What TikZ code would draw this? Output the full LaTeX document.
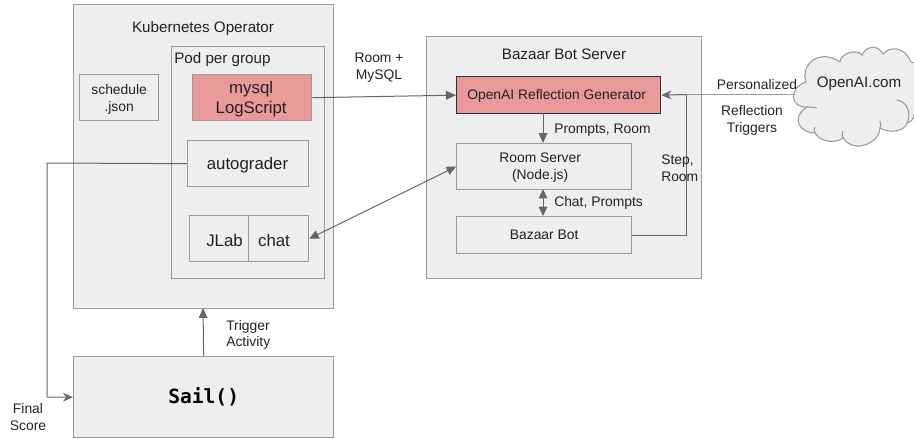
\documentclass[tikz,border=0pt]{standalone}
\usepackage{fontspec}
\setmainfont{Liberation Sans}
\setmonofont{DejaVu Sans Mono}
\usetikzlibrary{arrows.meta}
\definecolor{boxfill}{HTML}{EEEEEE}
\definecolor{boxline}{HTML}{9A9A9A}
\definecolor{redfill}{HTML}{EA9999}
\definecolor{arrowc}{HTML}{666666}
\definecolor{txt}{HTML}{222222}
\newcommand{\dn}[1]{\raisebox{-1pt}[\height][\depth]{#1}}
\newcommand{\dnn}[1]{\raisebox{-1.4pt}[\height][\depth]{\begin{tabular}{@{}c@{}}#1\end{tabular}}}
\tikzset{
  x=0.75pt,y=-0.75pt,
  box/.style={draw=boxline,fill=boxfill,line width=1pt,inner sep=0pt,text=txt,align=center,anchor=north west},
  small/.style={font=\fontsize{10.4pt}{12.6pt}\selectfont},
  mid/.style={font=\fontsize{11.4pt}{14pt}\selectfont},
  big/.style={font=\fontsize{12.6pt}{15pt}\selectfont},
  lab/.style={text=txt,align=center,inner sep=0pt,small},
  conn/.style={draw=arrowc,line width=0.75pt,-{Triangle[length=7.5pt,width=6.5pt]}},
  sconn/.style={draw=arrowc,line width=0.75pt,-{Stealth[length=7.5pt,width=6.5pt]}},
  plain/.style={draw=arrowc,line width=0.75pt},
  both/.style={draw=arrowc,line width=0.75pt,{Triangle[length=7pt,width=6.5pt]}-{Triangle[length=7pt,width=6.5pt]}},
  cloudline/.style={draw=boxline,line width=0.8pt}
}
\begin{document}
\begin{tikzpicture}
\useasboundingbox (0,0) rectangle (914,439);
\node[box,minimum width=195pt,minimum height=228pt] (k8s) at (73,4) {};
\node[box,minimum width=114.75pt,minimum height=174pt] (pod) at (171,46) {};
\node[box,small,minimum width=59.25pt,minimum height=34.5pt] (sched) at (79,74) {\dnn{schedule\\.json}};
\node[box,big,fill=redfill,minimum width=89.25pt,minimum height=34.5pt] (logs) at (192,74) {\dnn{\hspace*{-1.5pt}mysql\\\hspace*{-1.5pt}LogScript}};
\node[box,big,minimum width=90.75pt,minimum height=34.5pt] (auto) at (187,140) {\dn{\hspace*{-1pt}autograder}};
\node[box,big,minimum width=44.25pt,minimum height=34.5pt] (jlab) at (189,215) {\dn{\hspace*{8pt}JLab}};
\node[box,big,minimum width=45pt,minimum height=34.5pt] (chat) at (248,215) {\dn{\hspace*{-7pt}chat}};
\node[box,text=black,minimum width=195pt,minimum height=60.75pt,font=\fontsize{14.7pt}{16pt}\selectfont\ttfamily\bfseries] (sail) at (73,356) {Sail()};
\node[box,minimum width=206.25pt,minimum height=181.5pt] (bazaar) at (426,36) {};
\node[box,small,fill=redfill,draw=black!80,minimum width=153pt,minimum height=27.75pt] (gen) at (456,76) {\raisebox{-0.3pt}[\height][\depth]{\hspace*{-3pt}OpenAI Reflection Generator}};
\node[box,small,minimum width=131.25pt,minimum height=34.5pt] (room) at (456,143) {\raisebox{-0.7pt}[\height][\depth]{\begin{tabular}{@{}c@{}}Room Server\\(Node.js)\end{tabular}\hspace*{6pt}}};
\node[box,small,minimum width=131.25pt,minimum height=27.75pt] (bot) at (456,216) {Bazaar Bot};
\node[lab,mid] (t1) at (203,29) {Kubernetes Operator};
\node[lab,mid,anchor=west] (t2) at (174,60) {Pod per group};
\node[lab,mid] (t3) at (564,54) {Bazaar Bot Server};
% cloud
\path[cloudline,fill=boxfill]
 (806,82) .. controls (800,64) and (820,48) .. (840,62)
 .. controls (840,54) and (856,48) .. (862,55)
 .. controls (866,46) and (878,44) .. (883,54)
 .. controls (890,46) and (904,46) .. (911,62)
 .. controls (925,62) and (930,100) .. (914,115)
 .. controls (914,120) and (910,122) .. (907,123)
 .. controls (905,131) and (890,134) .. (880,128)
 .. controls (880,142) and (855,155) .. (843,138)
 .. controls (835,144) and (820,142) .. (815,133)
 .. controls (800,133) and (790,118) .. (807,107)
 .. controls (790,108) and (788,88) .. (806,82) -- cycle;
\draw[cloudline] (897,100) .. controls (909,102) and (911,116) .. (907,123);
\draw[cloudline] (807,107) .. controls (810,107) and (813,107) .. (817,108);
\draw[cloudline] (815,133) .. controls (814,131) and (814,129) .. (815,127);
\draw[cloudline] (843,138) .. controls (842,136) and (842,134) .. (843,131);
\draw[cloudline] (880,128) .. controls (881,126) and (881,124) .. (880,121);
\node[lab,mid] (cloudtxt) at (859,84) {OpenAI.com};
\coordinate (cloudw) at (795,94.5);
\coordinate (c1) at (47,163);
\coordinate (c4) at (686,94.5);
\coordinate (gs) at (543,113);
\coordinate (rn) at (543,143);
\coordinate (rs) at (543,189);
\coordinate (bn) at (543,216);
\coordinate (ta) at (203,308);
% connectors
\draw[conn] (logs.east) -- (gen.west);
\draw[sconn] (auto.west) -- (c1) |- (sail.west);
\draw[conn] (sail.north) -- (ta);
\draw[both] (chat.east) -- (room.west);
\draw[conn] (gs) -- (rn);
\draw[both] (rs) -- (bn);
\draw[plain] (bot.east) -| (c4);
\draw[cloudline,line width=1pt] (cloudw) -- (c4);
\draw[sconn] (c4) -- (gen.east);
% labels
\node[lab] (l1) at (379,68) {Room +\\MySQL};
\node[lab] (l2) at (757,85) {Personalized};
\node[lab] (l3) at (752,120.5) {Reflection\\Triggers};
\node[lab,anchor=west] (l4) at (554,130) {Prompts, Room};
\node[lab,anchor=west] (l5) at (554,203) {Chat, Prompts};
\node[lab,anchor=west,align=left] (l6) at (661,168) {Step,\\Room};
\node[lab,anchor=west,align=left] (l7) at (226,335) {Trigger\\Activity};
\node[lab] (l8) at (28,417) {Final\\Score};
\end{tikzpicture}
\end{document}
